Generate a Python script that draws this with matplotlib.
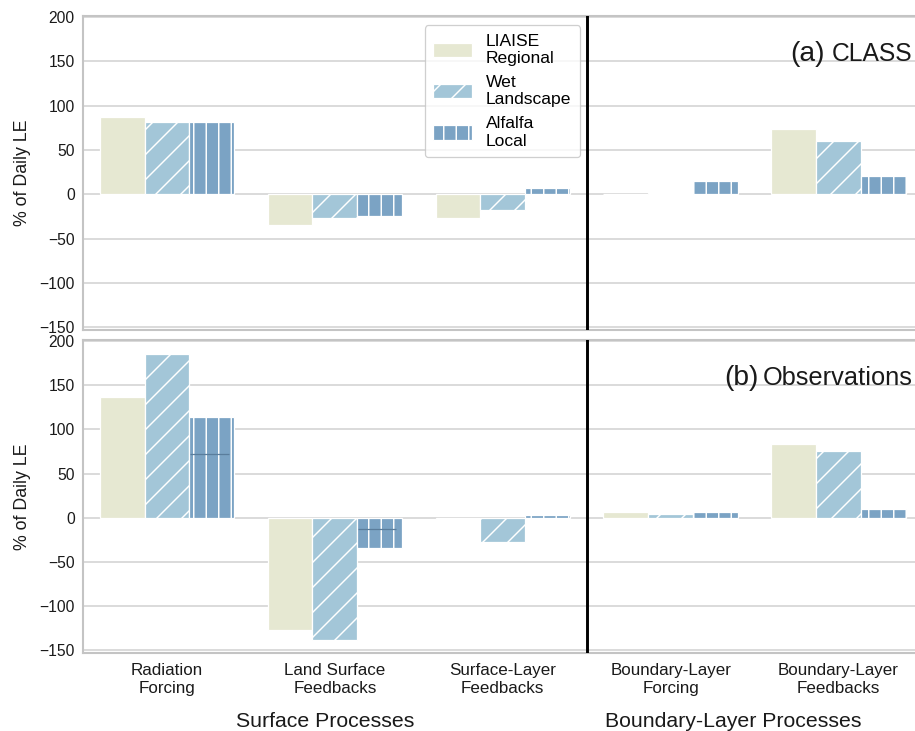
import numpy as np
import matplotlib
matplotlib.use("Agg")
import matplotlib.pyplot as plt
from matplotlib.transforms import blended_transform_factory

# ----------------------------------------------------------------------------------------------------------------------
categories = ['Radiation\nForcing', 'Land Surface\nFeedbacks', 'Surface-Layer\nFeedbacks',
              'Boundary-Layer\nForcing', 'Boundary-Layer\nFeedbacks']
series_names = ['LIAISE\nRegional', 'Wet\nLandscape', 'Alfalfa\nLocal']

# % of daily LE, CLASS model runs
class_liaise = [87, -35, -27, 0.5, 74]
class_wet = [82, -27, -18, 2, 60]
class_alfalfa = [81, -24, 7, 15, 21]

# % of daily LE, observations
obs_liaise = [137, -127, -1, 6, 83]
obs_wet = [185, -138, -27, 4, 75]
obs_alfalfa = [114, -34, 3, 6, 10]
obs_alfalfa_mark = [72, -12.5]  # thin reference marks in the first two alfalfa bars

group_names = ['Surface Processes', 'Boundary-Layer Processes']
y_ticks = [-150, -100, -50, 0, 50, 100, 150, 200]
# ----------------------------------------------------------------------------------------------------------------------
colors = ['#e6e8d2', '#a3c6d8', '#7ba3c4']
hatches = ['', '//', '||']
plt.rcParams['font.family'] = ['Liberation Sans', 'DejaVu Sans']
plt.rcParams['hatch.linewidth'] = 0.7
GRID = '#d4d4d4'
SPINE = '#c4c4c4'
TXT = '#1a1a1a'


def draw_panel(ax, values, tag, tag_x, title, title_size, legend=False):
    x = np.arange(len(categories))
    w = 0.8 / 3
    handles = []
    for i, v in enumerate(values):
        b = ax.bar(x + (i - 1) * w, v, width=w, color=colors[i], edgecolor='white',
                   linewidth=0.6, hatch=hatches[i], zorder=2, label=series_names[i])
        handles.append(b)
    ax.set_xlim(-0.5, 4.5)
    ax.set_ylim(-153, 201)
    ax.set_yticks(y_ticks)
    ax.grid(axis='y', color=GRID, lw=0.8, zorder=0)
    ax.grid(axis='x', visible=False)
    ax.set_axisbelow(True)
    for s in ax.spines.values():
        s.set_color(SPINE)
        s.set_linewidth(1.0)
    ax.tick_params(axis='both', length=0, labelsize=7.5, colors=TXT, pad=4)
    ax.axvline(2.5, color='black', lw=1.4, zorder=3)
    ax.set_ylabel('% of Daily LE', fontsize=8.5, color=TXT, labelpad=4)
    ax.text(tag_x, 150, tag, fontsize=13.5, ha='left', va='baseline', color=TXT)
    ax.text(4.44, 150, title, fontsize=title_size, ha='right', va='baseline', color=TXT)
    if legend:
        leg = ax.legend(handles=handles, loc='upper left', bbox_to_anchor=(0.407, 0.971),
                        borderaxespad=0, fontsize=8.4, handlelength=2.2, handleheight=0.9,
                        labelspacing=0.5, frameon=True, fancybox=True, borderpad=0.5)
        leg.get_frame().set_edgecolor(SPINE)
        leg.get_frame().set_linewidth(0.6)
    return x


fig = plt.figure(figsize=(915 / 150, 731 / 150), dpi=150)
ax1 = fig.add_axes([0.0907, 0.5486, 0.9175, 0.4295])
ax2 = fig.add_axes([0.0907, 0.1067, 0.9175, 0.4282])

draw_panel(ax1, [class_liaise, class_wet, class_alfalfa], '(a)', 3.71, 'CLASS', 11.8, legend=True)
x = draw_panel(ax2, [obs_liaise, obs_wet, obs_alfalfa], '(b)', 3.32, 'Observations', 12.2)

for k, m in enumerate(obs_alfalfa_mark):
    ax2.hlines(m, x[k] + 0.8 / 3 - 0.13, x[k] + 0.8 / 3 + 0.10, color='#5a7d9c', lw=0.6, zorder=3)

ax1.set_xticks(np.arange(len(categories)))
ax1.set_xticklabels([])
ax2.set_xticks(np.arange(len(categories)))
ax2.set_xticklabels(categories, fontsize=8.2, color=TXT, linespacing=1.25)
ax2.tick_params(axis='x', pad=5)

tr = blended_transform_factory(ax2.transData, fig.transFigure)
ax2.text(0.94, 0.005, group_names[0], transform=tr, ha='center', va='baseline',
         fontsize=10.2, color=TXT)
ax2.text(3.37, 0.005, group_names[1], transform=tr, ha='center', va='baseline',
         fontsize=10.2, color=TXT)

fig.savefig('out.png', dpi=150)
